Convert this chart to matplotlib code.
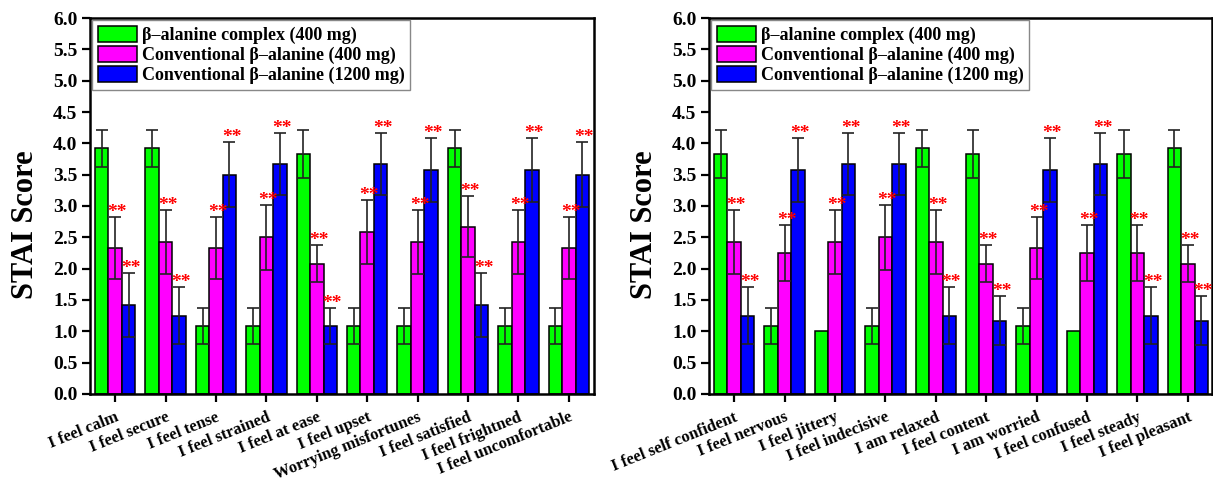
"""
STAI score bar charts
=====================
Two panels of grouped bars (three beta-alanine treatments) with SD error
bars and significance stars.
"""

import numpy as np
import matplotlib.pyplot as plt

# Configuration
DPI = 100
FONT = 'Liberation Serif'

COLORS = {
    'complex': '#00FF00',
    'conv400': '#FF00FF',
    'conv1200': '#0000FF',
    'star': '#FF0000',
}

SERIES_NAMES = ['\u03b2\u2013alanine complex (400 mg)',
                'Conventional \u03b2\u2013alanine (400 mg)',
                'Conventional \u03b2\u2013alanine (1200 mg)']

# ============================================================================
# Data
# ============================================================================

left_labels = ['I feel calm', 'I feel secure', 'I feel tense', 'I feel strained',
               'I feel at ease', 'I feel upset', 'Worrying misfortunes',
               'I feel satisfied', 'I feel frightned', 'I feel uncomfortable']
left_complex = [3.92, 3.92, 1.08, 1.08, 3.83, 1.08, 1.08, 3.92, 1.08, 1.08]
left_complex_err = [0.29, 0.29, 0.29, 0.29, 0.39, 0.29, 0.29, 0.29, 0.29, 0.29]
left_conv400 = [2.33, 2.42, 2.33, 2.50, 2.08, 2.58, 2.42, 2.67, 2.42, 2.33]
left_conv400_err = [0.49, 0.51, 0.49, 0.52, 0.29, 0.51, 0.51, 0.49, 0.51, 0.49]
left_conv1200 = [1.42, 1.25, 3.50, 3.67, 1.08, 3.67, 3.58, 1.42, 3.58, 3.50]
left_conv1200_err = [0.51, 0.45, 0.52, 0.49, 0.29, 0.49, 0.51, 0.51, 0.51, 0.52]

right_labels = ['I feel self confident', 'I feel nervous', 'I feel jittery',
                'I feel indecisive', 'I am relaxed', 'I feel content',
                'I am worried', 'I feel confused', 'I feel steady', 'I feel pleasant']
right_complex = [3.83, 1.08, 1.00, 1.08, 3.92, 3.83, 1.08, 1.00, 3.83, 3.92]
right_complex_err = [0.39, 0.29, 0.0, 0.29, 0.29, 0.39, 0.29, 0.0, 0.39, 0.29]
right_conv400 = [2.42, 2.25, 2.42, 2.50, 2.42, 2.08, 2.33, 2.25, 2.25, 2.08]
right_conv400_err = [0.51, 0.45, 0.51, 0.52, 0.51, 0.29, 0.49, 0.45, 0.45, 0.29]
right_conv1200 = [1.25, 3.58, 3.67, 3.67, 1.25, 1.17, 3.58, 3.67, 1.25, 1.17]
right_conv1200_err = [0.45, 0.51, 0.49, 0.49, 0.45, 0.39, 0.51, 0.49, 0.45, 0.39]

y_ticks = np.arange(0, 6.01, 0.5)

# ============================================================================
# Drawing
# ============================================================================

def draw_panel(ax, labels, series, errors, xmax):
    x = np.arange(len(labels))
    width = 0.267
    offsets = [-width, 0.0, width]
    colors = [COLORS['complex'], COLORS['conv400'], COLORS['conv1200']]

    for k, (vals, errs) in enumerate(zip(series, errors)):
        vals = np.array(vals)
        errs = np.array(errs)
        xpos = x + offsets[k]
        ax.bar(xpos, vals, width, color=colors[k], edgecolor='black',
               linewidth=1.1, label=SERIES_NAMES[k], zorder=2)
        has_err = errs > 0
        ax.errorbar(xpos[has_err], vals[has_err], yerr=errs[has_err], fmt='none',
                    ecolor='#222222', elinewidth=1.2, capsize=4.5, capthick=1.2,
                    zorder=3)
        # significance stars on the two conventional groups
        if k > 0:
            for xi, top in zip(xpos, vals + errs):
                ax.text(xi + 0.04, top + 0.0, '**', color=COLORS['star'],
                        fontsize=14, fontweight='bold', family=FONT,
                        ha='center', va='baseline', zorder=4)

    ax.set_xlim(-0.5, xmax)
    ax.set_ylim(0, 6.0)
    ax.set_yticks(y_ticks)
    ax.set_yticklabels([f'{v:.1f}' for v in y_ticks], fontsize=14,
                       fontweight='bold', family=FONT)
    ax.set_xticks(x)
    ax.set_xticklabels(labels, rotation=22, ha='right', rotation_mode='anchor',
                       fontsize=12, fontweight='bold', family=FONT)
    ax.tick_params(axis='both', direction='out', length=6, width=1.6, pad=3)
    ax.tick_params(axis='x', pad=5)
    for side in ['left', 'right', 'top', 'bottom']:
        ax.spines[side].set_linewidth(1.8)
    ax.set_ylabel('STAI Score', fontsize=22, fontweight='bold', family=FONT)
    ax.yaxis.set_label_coords(-0.1, 0.45)

    leg = ax.legend(loc='upper left', prop={'family': FONT, 'weight': 'bold', 'size': 13},
                    frameon=True, fancybox=False, edgecolor='#888888',
                    framealpha=1, borderaxespad=0.12, borderpad=0.3,
                    handlelength=2.2, handleheight=1.0, handletextpad=0.25,
                    labelspacing=0.1)
    leg.get_frame().set_linewidth(1.0)


def create_figure():
    fig = plt.figure(figsize=(12.13, 4.83), dpi=DPI)
    ax1 = fig.add_axes([90 / 1213, 89 / 483, 504 / 1213, 376 / 483])
    ax2 = fig.add_axes([709 / 1213, 89 / 483, 503 / 1213, 376 / 483])

    draw_panel(ax1, left_labels,
               [left_complex, left_conv400, left_conv1200],
               [left_complex_err, left_conv400_err, left_conv1200_err], 9.5)
    draw_panel(ax2, right_labels,
               [right_complex, right_conv400, right_conv1200],
               [right_complex_err, right_conv400_err, right_conv1200_err], 9.48)

    fig.savefig('out.png', dpi=DPI)
    plt.close(fig)


if __name__ == '__main__':
    create_figure()
